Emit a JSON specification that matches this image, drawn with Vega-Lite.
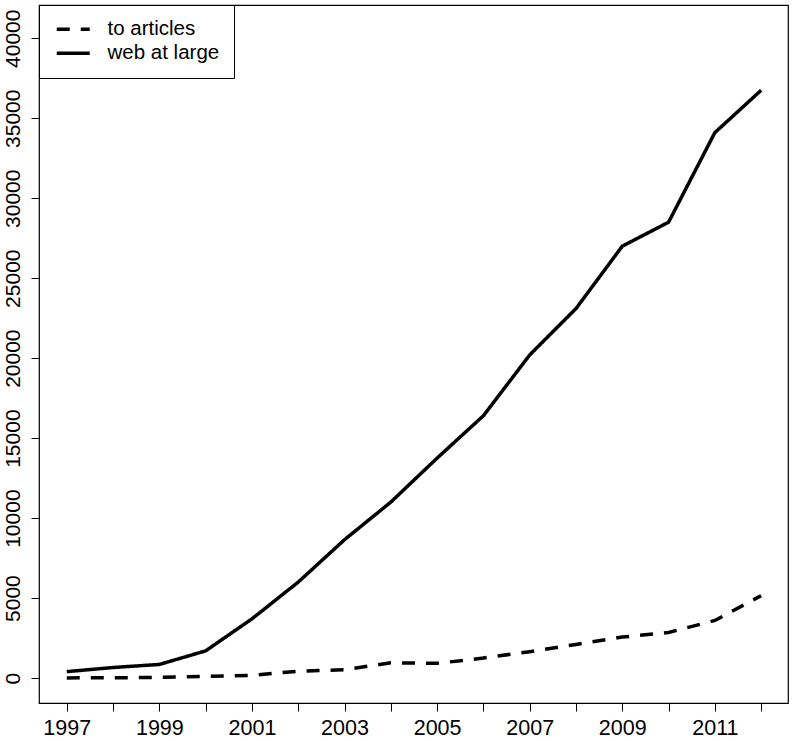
{
  "$schema": "https://vega.github.io/schema/vega-lite/v6.json",
  "width": 749,
  "height": 698,
  "autosize": {"type": "none"},
  "padding": {"left": 39, "top": 5, "right": 7, "bottom": 38},
  "background": "white",
  "config": {
    "view": {"stroke": "black", "strokeWidth": 1.2},
    "font": "Liberation Sans",
    "axis": {
      "domain": false,
      "grid": false,
      "ticks": true,
      "tickColor": "black",
      "tickSize": 8,
      "tickWidth": 1,
      "labelColor": "black",
      "labelFont": "Liberation Sans",
      "labelFontSize": 21,
      "title": null
    },
    "legend": {
      "orient": "none",
      "legendX": 0,
      "legendY": 0,
      "strokeColor": "black",
      "fillColor": "white",
      "padding": 14,
      "cornerRadius": 0,
      "labelFont": "Liberation Sans",
      "labelFontSize": 20.5,
      "labelColor": "black",
      "symbolType": "M-3.3,0H3.3",
      "symbolSize": 100,
      "symbolStrokeWidth": 3.5,
      "symbolStrokeColor": "black",
      "symbolFillColor": "transparent",
      "symbolOffset": 10,
      "labelOffset": 24,
      "rowPadding": 3
    }
  },
  "data": {
    "values": [
      {"year": 1997, "series": "web at large", "value": 400},
      {"year": 1998, "series": "web at large", "value": 660},
      {"year": 1999, "series": "web at large", "value": 850},
      {"year": 2000, "series": "web at large", "value": 1700},
      {"year": 2001, "series": "web at large", "value": 3700},
      {"year": 2002, "series": "web at large", "value": 6000},
      {"year": 2003, "series": "web at large", "value": 8650},
      {"year": 2004, "series": "web at large", "value": 11000},
      {"year": 2005, "series": "web at large", "value": 13750},
      {"year": 2006, "series": "web at large", "value": 16400},
      {"year": 2007, "series": "web at large", "value": 20200},
      {"year": 2008, "series": "web at large", "value": 23100},
      {"year": 2009, "series": "web at large", "value": 27000},
      {"year": 2010, "series": "web at large", "value": 28500},
      {"year": 2011, "series": "web at large", "value": 34100},
      {"year": 2012, "series": "web at large", "value": 36750},
      {"year": 1997, "series": "to articles", "value": 10},
      {"year": 1998, "series": "to articles", "value": 15},
      {"year": 1999, "series": "to articles", "value": 40},
      {"year": 2000, "series": "to articles", "value": 100},
      {"year": 2001, "series": "to articles", "value": 170},
      {"year": 2002, "series": "to articles", "value": 430},
      {"year": 2003, "series": "to articles", "value": 520},
      {"year": 2004, "series": "to articles", "value": 950},
      {"year": 2005, "series": "to articles", "value": 920},
      {"year": 2006, "series": "to articles", "value": 1250},
      {"year": 2007, "series": "to articles", "value": 1650},
      {"year": 2008, "series": "to articles", "value": 2100},
      {"year": 2009, "series": "to articles", "value": 2560},
      {"year": 2010, "series": "to articles", "value": 2850},
      {"year": 2011, "series": "to articles", "value": 3600},
      {"year": 2012, "series": "to articles", "value": 5150}
    ]
  },
  "mark": {"type": "line", "color": "black", "strokeWidth": 3.5, "strokeCap": "butt", "clip": true},
  "encoding": {
    "x": {
      "field": "year",
      "type": "quantitative",
      "scale": {"domain": [1996.4, 2012.58], "nice": false, "zero": false},
      "axis": {
        "values": [1997, 1998, 1999, 2000, 2001, 2002, 2003, 2004, 2005, 2006, 2007, 2008, 2009, 2010, 2011, 2012],
        "format": "d",
        "labelExpr": "datum.value % 2 == 1 ? datum.label : ''",
        "labelFontSize": 21.5,
        "labelPadding": 6,
        "labelOverlap": false,
        "labelFlush": false
      }
    },
    "y": {
      "field": "value",
      "type": "quantitative",
      "scale": {"domain": [-1560, 42080], "nice": false, "zero": false},
      "axis": {
        "values": [0, 5000, 10000, 15000, 20000, 25000, 30000, 35000, 40000],
        "format": "d",
        "labelAngle": -90,
        "labelAlign": "center",
        "labelBaseline": "bottom",
        "labelPadding": 8,
        "labelOverlap": false,
        "labelFlush": false
      }
    },
    "strokeDash": {
      "field": "series",
      "type": "nominal",
      "scale": {"domain": ["to articles", "web at large"], "range": [[13, 11], [1, 0]]},
      "legend": {"title": null}
    }
  }
}
